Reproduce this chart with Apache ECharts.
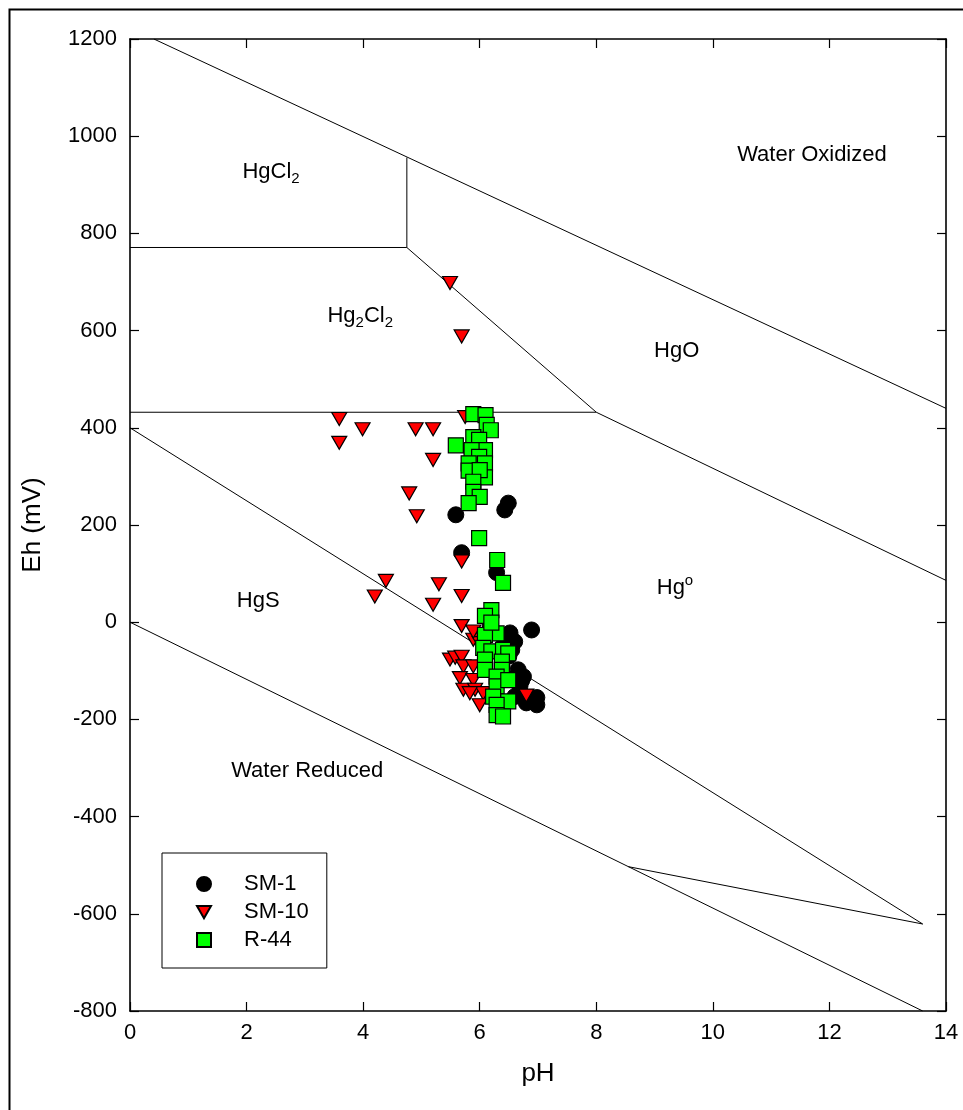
<!DOCTYPE html>
<html>
<head>
<meta charset="utf-8">
<script src="https://cdn.jsdelivr.net/npm/echarts@6/dist/echarts.min.js"></script>
<style>
html,body{margin:0;padding:0;background:#fff;}
#chart{width:963px;height:1110px;}
</style>
</head>
<body>
<div id="chart"></div>
<script>
// ---- Data (pH, Eh mV) ----
const xTicks = [0, 2, 4, 6, 8, 10, 12, 14];
const yTicks = [-800, -600, -400, -200, 0, 200, 400, 600, 800, 1000, 1200];

const sm1 = [
  [5.59,221],[5.69,143],[6.49,245],[6.43,231],[6.29,102],[6.89,-16],[6.18,-6],
  [6.52,-22],[6.60,-40],[6.55,-57],[6.66,-98],[6.75,-112],[6.69,-132],[6.98,-155],
  [6.98,-170],[6.80,-166],[6.60,-153],[6.72,-120],[6.50,-70],[6.40,-30]
];
const sm10 = [
  [5.49,698],[5.69,588],[3.59,418],[3.59,369],[3.99,397],[4.90,397],[5.20,397],
  [5.20,334],[4.79,265],[4.92,218],[4.39,85],[4.20,53],[5.30,78],[5.20,36],
  [5.69,125],[5.69,54],[5.69,-8],[5.77,354],[5.75,422],[5.89,-36],[6.00,-43],
  [5.49,-77],[5.58,-73],[5.69,-71],[5.72,-91],[5.89,-91],[5.66,-115],[5.72,-139],
  [5.89,-119],[5.92,-139],[6.06,-146],[6.00,-171],[5.83,-146],[6.80,-151],[5.89,-19]
];
const r44 = [
  [5.89,428],[6.10,426],[6.12,406],[6.19,395],[5.59,364],[5.89,381],[5.99,375],
  [6.09,354],[5.86,354],[5.99,340],[5.81,327],[5.81,312],[6.09,327],[6.09,298],
  [6.00,313],[5.89,289],[5.89,268],[6.00,258],[5.81,245],[5.99,173],[6.30,128],
  [6.40,81],[6.20,25],[6.09,13],[6.29,-23],[6.09,-26],[6.06,-53],[6.20,-60],
  [6.40,-57],[6.49,-64],[6.38,-81],[6.09,-77],[6.09,-98],[6.38,-98],[6.29,-112],
  [6.29,-132],[6.49,-119],[6.23,-153],[6.49,-163],[6.29,-170],[6.29,-191],[6.40,-194],
  [6.20,-1]
];

// stability-field boundaries
const waterOxidized = [[0.41,1200],[14,440]];
const waterReduced = [[0,0],[13.6,-800]];
const hgcl2Hg2cl2 = [[0,771],[4.75,771]];
const hgcl2HgO = [[4.75,771],[4.75,956]];
const hg2cl2HgO = [[4.75,771],[8,432]];
const hg2cl2HgS = [[0,432],[8,432]];
const hgoHg0 = [[8,432],[14,86]];
const hgsHg0 = [[0,400],[13.6,-621]];
const lowerBound = [[8.55,-503],[13.6,-621]];

// region labels
const regionLabels = [
  {text:'{a|HgCl}{s|2}', pos:[2.42,926]},
  {text:'{a|Hg}{s|2}{a|Cl}{s|2}', pos:[3.95,630]},
  {text:'{a|HgO}', pos:[9.38,558]},
  {text:'{a|Hg}{p|o}', pos:[9.35,71]},
  {text:'{a|HgS}', pos:[2.2,44]},
  {text:'{a|Water Oxidized}', pos:[11.7,961]},
  {text:'{a|Water Reduced}', pos:[3.04,-306]}
];

const FONT = 'Arial, "Liberation Sans", Helvetica, sans-serif';

function boundary(data){
  return {type:'line', data:data, symbol:'none', silent:true, z:1,
    lineStyle:{color:'#000', width:1}, animation:false, legendHoverLink:false};
}

const chart = echarts.init(document.getElementById('chart'), null, {renderer:'canvas'});
const axisLine = {show:true, onZero:false, lineStyle:{color:'#000', width:1.6}};
const tick = {show:true, inside:true, length:9, lineStyle:{color:'#000',width:1.2}};
chart.setOption({
  animation:false,
  backgroundColor:'#fff',
  textStyle:{fontFamily:FONT},
  grid:{left:130, right:17, top:39, bottom:99, containLabel:false},
  xAxis:[
    {type:'value', min:0, max:14, interval:2, position:'bottom',
     axisLine:axisLine, axisTick:tick,
     axisLabel:{color:'#000', fontSize:22, margin:11, fontFamily:FONT, formatter:v=>String(v)},
     splitLine:{show:false},
     name:'pH', nameLocation:'middle', nameGap:50,
     nameTextStyle:{color:'#000', fontSize:26, fontFamily:FONT}},
    {type:'value', min:0, max:14, interval:2, position:'top',
     axisLine:axisLine, axisTick:tick,
     axisLabel:{show:false}, splitLine:{show:false}}
  ],
  yAxis:[
    {type:'value', min:-800, max:1200, interval:200, position:'left',
     axisLine:axisLine, axisTick:tick,
     axisLabel:{color:'#000', fontSize:22, margin:13, fontFamily:FONT, formatter:v=>String(v)},
     splitLine:{show:false},
     name:'Eh (mV)', nameLocation:'middle', nameGap:84, nameRotate:90,
     nameTextStyle:{color:'#000', fontSize:26, fontFamily:FONT}},
    {type:'value', min:-800, max:1200, interval:200, position:'right',
     axisLine:axisLine, axisTick:tick,
     axisLabel:{show:false}, splitLine:{show:false}}
  ],
  legend:{
    data:[
      {name:'SM-1', icon:'circle'},
      {name:'SM-10', icon:'path://M0,0L16,0L8,14Z'},
      {name:'R-44', icon:'rect'}
    ],
    orient:'vertical', left:162, top:853,
    itemWidth:14, itemHeight:14, itemGap:6,
    padding:[20,18,17,34],
    borderColor:'#000', borderWidth:1, backgroundColor:'#fff',
    selectedMode:false,
    textStyle:{color:'#000', fontSize:22, fontFamily:FONT, padding:[0,0,0,28]}
  },
  graphic:[
    {type:'polyline', shape:{points:[[9.5,1110],[9.5,9.5],[963,9.5]]},
     style:{stroke:'#000', lineWidth:2, fill:null}, silent:true, z:100}
  ],
  series:[
    boundary(waterOxidized), boundary(waterReduced), boundary(hgcl2Hg2cl2),
    boundary(hgcl2HgO), boundary(hg2cl2HgO), boundary(hg2cl2HgS),
    boundary(hgoHg0), boundary(hgsHg0), boundary(lowerBound),
    {type:'scatter', name:'labels', silent:true, z:2,
     data:regionLabels.map(d=>({value:d.pos, label:{formatter:d.text}})),
     symbolSize:0, itemStyle:{opacity:1, color:'#000'},
     label:{show:true, position:'inside', color:'#000', opacity:1, textBorderWidth:0,
       rich:{
         a:{fontSize:22, color:'#000', fontFamily:FONT, lineHeight:28, textBorderWidth:0},
         s:{fontSize:15, color:'#000', fontFamily:FONT, lineHeight:15, padding:[13,0,0,0], textBorderWidth:0},
         p:{fontSize:15, color:'#000', fontFamily:FONT, lineHeight:15, padding:[0,0,13,0], textBorderWidth:0}
       }}},
    {type:'scatter', name:'SM-1', data:sm1, symbol:'circle', symbolSize:16, z:3,
     itemStyle:{color:'#000', borderColor:'#000', borderWidth:1, opacity:1}},
    {type:'scatter', name:'SM-10', data:sm10, symbol:'triangle', symbolRotate:180, symbolSize:[15,13], z:4,
     itemStyle:{color:'#ff0000', borderColor:'#000', borderWidth:1.2, opacity:1}},
    {type:'scatter', name:'R-44', data:r44, symbol:'rect', symbolSize:15, z:5,
     itemStyle:{color:'#00ff00', borderColor:'#000', borderWidth:1.2, opacity:1}}
  ]
});
</script>
</body>
</html>
